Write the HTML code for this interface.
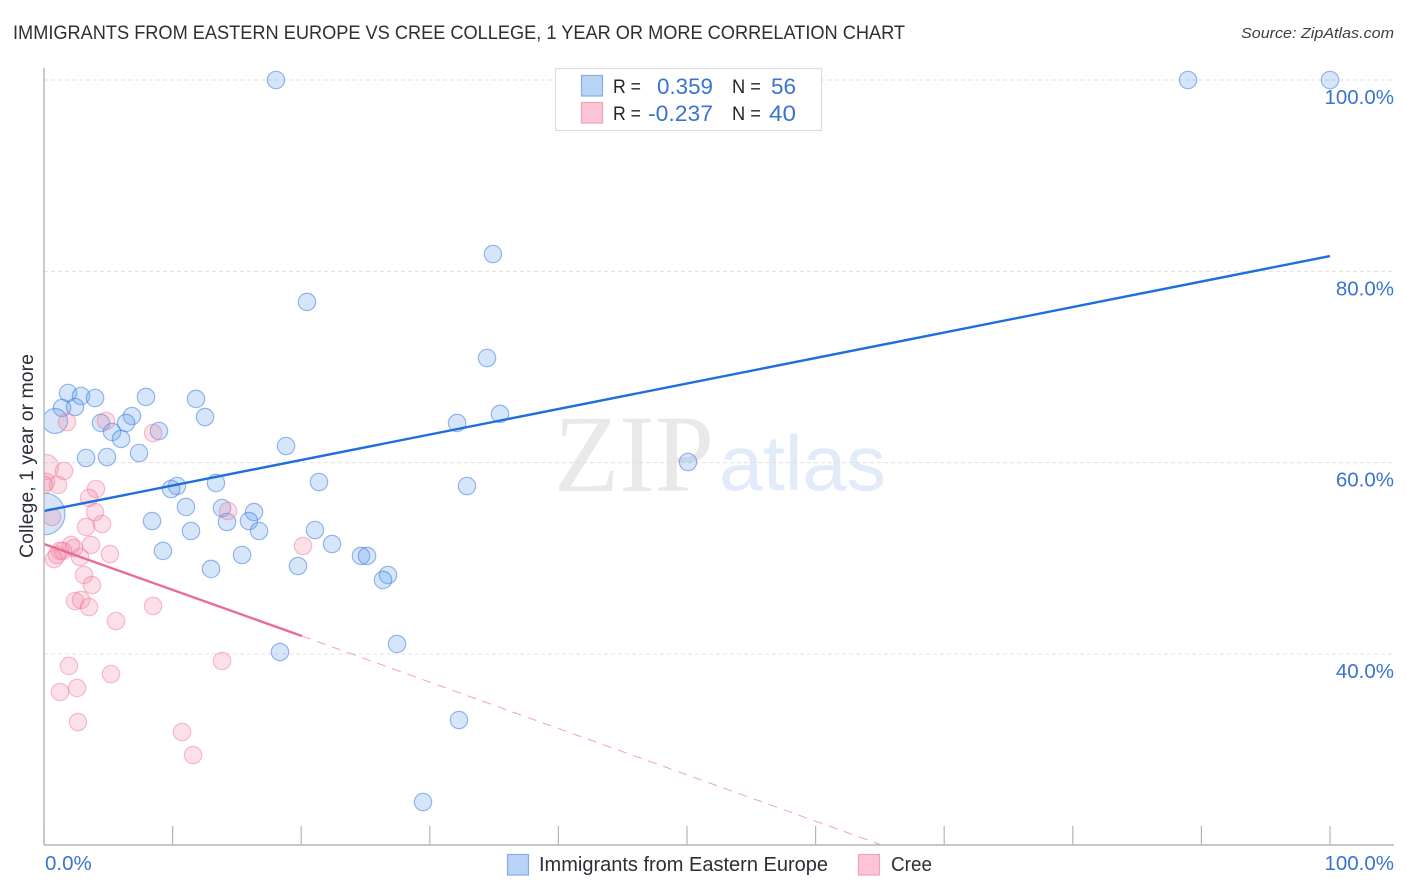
<!DOCTYPE html>
<html>
<head>
<meta charset="utf-8">
<title>Immigrants from Eastern Europe vs Cree College Correlation Chart</title>
<style>
html,body{margin:0;padding:0;background:#fff;}
body{width:1406px;height:892px;overflow:hidden;font-family:"Liberation Sans",sans-serif;}
svg{display:block;}
</style>
</head>
<body>
<svg id="chart" width="1406" height="892" viewBox="0 0 1406 892" xmlns="http://www.w3.org/2000/svg" font-family="'Liberation Sans',sans-serif">
  <defs>
    <clipPath id="plot-clip"><rect x="44" y="60" width="1350" height="785"/></clipPath>
  </defs>
  <text x="13" y="39" font-size="19" fill="#2b2f36" textLength="892" lengthAdjust="spacingAndGlyphs">IMMIGRANTS FROM EASTERN EUROPE VS CREE COLLEGE, 1 YEAR OR MORE CORRELATION CHART</text>
  <text x="1241" y="38" font-size="15" font-style="italic" fill="#3a3f47" textLength="153" lengthAdjust="spacingAndGlyphs">Source: ZipAtlas.com</text>
  <g>
    <text x="554" y="491" font-family="'Liberation Serif',serif" font-size="110" fill="#e9e9e9" textLength="160" lengthAdjust="spacingAndGlyphs">ZIP</text>
    <text x="719" y="490" font-size="78" fill="#e2ebf9" textLength="167" lengthAdjust="spacingAndGlyphs">atlas</text>
  </g>
  <g id="grid"></g>
  <g id="blue-points" clip-path="url(#plot-clip)"></g>
  <g id="pink-points" clip-path="url(#plot-clip)"></g>
  <g id="trends" clip-path="url(#plot-clip)"></g>
  <g id="axes"></g>
  <text transform="translate(33,558) rotate(-90)" x="0" y="0" font-size="19" fill="#2b2f36" textLength="204" lengthAdjust="spacingAndGlyphs">College, 1 year or more</text>

  <g>
    <rect x="555.5" y="68.5" width="266" height="62" fill="#fff" stroke="#dcdcdc" stroke-width="1.2"/>
    <rect x="581.5" y="75.5" width="21" height="20.5" fill="#b9d3f6" stroke="#86ade4" stroke-width="1.2"/>
    <rect x="581.5" y="102.5" width="21" height="20.5" fill="#fcc5d6" stroke="#efa3bb" stroke-width="1.2"/>
    <text x="613" y="93" font-size="19" fill="#23262b" textLength="28" lengthAdjust="spacingAndGlyphs">R =</text>
    <text x="657" y="94" font-size="22" fill="#3a74d0" textLength="56" lengthAdjust="spacingAndGlyphs">0.359</text>
    <text x="732" y="93" font-size="19" fill="#23262b" textLength="29" lengthAdjust="spacingAndGlyphs">N =</text>
    <text x="771" y="94" font-size="22" fill="#3a74d0" textLength="25" lengthAdjust="spacingAndGlyphs">56</text>
    <text x="613" y="120" font-size="19" fill="#23262b" textLength="28" lengthAdjust="spacingAndGlyphs">R =</text>
    <text x="648" y="121" font-size="22" fill="#3a74d0" textLength="65" lengthAdjust="spacingAndGlyphs">-0.237</text>
    <text x="732" y="120" font-size="19" fill="#23262b" textLength="29" lengthAdjust="spacingAndGlyphs">N =</text>
    <text x="769" y="121" font-size="22" fill="#3a74d0" textLength="27" lengthAdjust="spacingAndGlyphs">40</text>
  </g>

  <g>
    <rect x="507.5" y="854.5" width="21" height="20.5" fill="#b9d3f6" stroke="#86ade4" stroke-width="1.2"/>
    <text x="539" y="871" font-size="20" fill="#2b2f36" textLength="289" lengthAdjust="spacingAndGlyphs">Immigrants from Eastern Europe</text>
    <rect x="858.5" y="854.5" width="21" height="20.5" fill="#fcc5d6" stroke="#efa3bb" stroke-width="1.2"/>
    <text x="891" y="871" font-size="20" fill="#2b2f36" textLength="41" lengthAdjust="spacingAndGlyphs">Cree</text>
  </g>
</svg>
<script>
var yTickValues = [100, 80, 60, 40];
var yTickLabels = ["100.0%", "80.0%", "60.0%", "40.0%"];
var xTickValues = [0, 10, 20, 30, 40, 50, 60, 70, 80, 90, 100];
var xEndValues = [0, 100];
var xEndLabels = ["0.0%", "100.0%"];

var blueX = [18.04,88.96,100,34.91,20.45,34.45,1.87,2.88,3.97,7.93,11.82,1.40,2.41,12.52,6.84,35.46,32.12,4.43,6.38,8.94,5.29,5.99,18.82,3.27,4.90,7.39,50.08,21.38,13.37,32.89,10.34,9.88,11.04,13.84,16.33,8.40,14.23,15.94,21.07,11.43,16.72,22.40,9.25,15.40,24.65,25.12,12.99,19.75,26.75,26.36,27.45,18.35,32.27,29.47,0,0.86];
var blueY = [100,100,100,81.81,76.80,70.94,67.28,66.97,66.76,66.87,66.66,65.72,65.82,64.77,64.88,65.09,64.15,64.15,64.15,63.31,63.21,62.48,61.74,60.49,60.59,61.01,60.07,57.98,57.88,57.56,57.56,57.25,55.37,55.26,54.84,53.90,53.80,53.90,52.96,52.86,52.86,51.50,50.77,50.35,50.25,50.25,48.89,49.20,48.26,47.74,41.05,40.21,33.10,24.53,54.64,64.36];
var blueWeight = [1,1,1,1,1,1,1,1,1,1,1,1,1,1,1,1,1,1,1,1,1,1,1,1,1,1,1,1,1,1,1,1,1,1,1,1,1,1,1,1,1,1,1,1,1,1,1,1,1,1,1,1,1,1,6,2];

var pinkX = [0.16,1.79,4.82,8.48,1.56,0.16,1.09,4.04,3.50,3.97,0.62,3.27,4.51,14.31,3.65,5.13,20.14,2.10,2.33,1.24,1.48,0.78,1.01,2.80,3.11,3.73,2.41,2.88,3.50,5.60,8.48,1.94,5.21,13.84,1.24,2.57,2.64,10.73,11.59,0];
var pinkY = [59.55,64.25,64.36,63.10,59.13,57.98,57.67,57.25,56.31,54.84,54.32,53.28,53.59,54.95,51.40,50.45,51.29,51.40,51.08,50.77,50.77,49.93,50.35,50.14,48.26,47.21,45.54,45.65,44.91,43.45,45.02,38.75,37.91,39.27,36.03,36.45,32.89,31.85,29.44,57.67];
var pinkWeight = [2,1,1,1,1,1,1,1,1,1,1,1,1,1,1,1,1,1,1,1,1,1,1,1,1,1,1,1,1,1,1,1,1,1,1,1,1,1,1,1];

var blueTrendX = [0, 100];
var blueTrendY = [54.95, 81.60];
var pinkSolidX = [0, 20.06];
var pinkSolidY = [51.50, 41.88];
var pinkDashX = [20.06, 65];
var pinkDashY = [41.88, 20.1];

var NS = "http://www.w3.org/2000/svg";
var PLOT_LEFT = 44, PLOT_RIGHT = 1394, PLOT_BOTTOM = 845, PLOT_TOP = 68;
function xScale(v) { return 44 + v * 12.86; }
function yScale(v) { return 80 + (100 - v) * 9.567; }
function radiusFor(w) {
  if (w >= 6) return 21;
  if (w >= 2) return 12.5;
  return 8.7;
}
function mk(tag, parentId) {
  var el = document.createElementNS(NS, tag);
  document.getElementById(parentId).appendChild(el);
  return el;
}

yTickValues.forEach(function (v, i) {
  var line = mk("line", "grid");
  
  
  line.setAttribute("x1", PLOT_LEFT);
  line.setAttribute("x2", PLOT_RIGHT);
  line.setAttribute("y1", yScale(v));
  line.setAttribute("y2", yScale(v));
  line.setAttribute("stroke", "#e0e0e0");
  line.setAttribute("stroke-width", "1");
  line.setAttribute("stroke-dasharray", "4 3");
  var label = mk("text", "axes");
  
  
  label.setAttribute("x", 1394);
  label.setAttribute("y", yScale(v) + 24);
  label.setAttribute("text-anchor", "end");
  label.setAttribute("font-size", "20.5");
  label.setAttribute("fill", "#3a74d0");
  label.textContent = yTickLabels[i];
});

function drawPoints(xs, ys, ws, parentId, fill, stroke, name) {
  xs.forEach(function (x, i) {
    var c = mk("circle", parentId);
    
    
    c.setAttribute("cx", xScale(x));
    c.setAttribute("cy", yScale(ys[i]));
    c.setAttribute("r", radiusFor(ws[i]));
    c.setAttribute("fill", fill);
    c.setAttribute("stroke", stroke);
    c.setAttribute("stroke-width", "1.2");
  });
}
drawPoints(blueX, blueY, blueWeight, "blue-points", "rgba(100,160,235,0.27)", "rgba(55,120,215,0.5)", "immigrants-point");
drawPoints(pinkX, pinkY, pinkWeight, "pink-points", "rgba(245,140,170,0.27)", "rgba(235,105,145,0.42)", "cree-point");

function drawTrend(xs, ys, stroke, width, dash, name) {
  var l = mk("line", "trends");
  
  
  l.setAttribute("x1", xScale(xs[0]));
  l.setAttribute("y1", yScale(ys[0]));
  l.setAttribute("x2", xScale(xs[1]));
  l.setAttribute("y2", yScale(ys[1]));
  l.setAttribute("stroke", stroke);
  l.setAttribute("stroke-width", width);
  if (dash) l.setAttribute("stroke-dasharray", dash);
}
drawTrend(blueTrendX, blueTrendY, "#1f6fdb", 2.4, null, "immigrants-trend-line");
drawTrend(pinkSolidX, pinkSolidY, "#ea6a98", 2.4, null, "cree-trend-line");
drawTrend(pinkDashX, pinkDashY, "#f0a3bd", 1, "9 7", "cree-trend-extension");

function axisLine(x1, y1, x2, y2, name, w) {
  var l = mk("line", "axes");
  
  
  l.setAttribute("x1", x1);
  l.setAttribute("y1", y1);
  l.setAttribute("x2", x2);
  l.setAttribute("y2", y2);
  l.setAttribute("stroke", "#b5b5b5");
  l.setAttribute("stroke-width", w);
}
axisLine(PLOT_LEFT, PLOT_TOP, PLOT_LEFT, PLOT_BOTTOM, "y-axis-line", 1.4);
axisLine(PLOT_LEFT, PLOT_BOTTOM, PLOT_RIGHT, PLOT_BOTTOM, "x-axis-line", 1.4);
xTickValues.forEach(function (v) {
  axisLine(xScale(v), 826, xScale(v), PLOT_BOTTOM, "x-tick", 1.2);
});
xEndValues.forEach(function (v, i) {
  var label = mk("text", "axes");
  
  
  label.setAttribute("x", i === 0 ? 45 : 1394);
  label.setAttribute("y", 870);
  label.setAttribute("text-anchor", i === 0 ? "start" : "end");
  label.setAttribute("font-size", "20.5");
  label.setAttribute("fill", "#3a74d0");
  label.textContent = xEndLabels[i];
});
</script>
</body>
</html>
